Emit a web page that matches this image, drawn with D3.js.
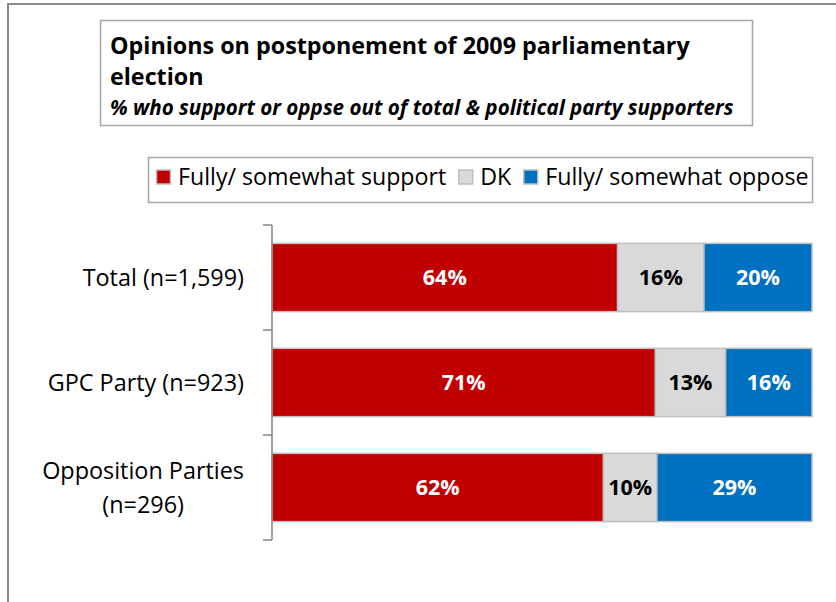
<!DOCTYPE html>
<html>
<head>
<meta charset="utf-8">
<script src="https://cdn.jsdelivr.net/npm/d3@7"></script>
<style>
  html, body { margin: 0; padding: 0; background: #fff; }
  svg { display: block; font-family: "Open Sans", Lato, sans-serif; }
</style>
</head>
<body>
<svg id="chart" width="836" height="602"></svg>
<script>
// Survey groups (top to bottom) and their answer shares in percent
const categories = [["Total (n=1,599)"], ["GPC Party (n=923)"], ["Opposition Parties", "(n=296)"]];
const seriesNames = ["Fully/ somewhat support", "DK", "Fully/ somewhat oppose"];
const support = [64, 71, 62];
const dontKnow = [16, 13, 10];
const oppose = [20, 16, 29];

const titleLines = ["Opinions on postponement of 2009 parliamentary", "election"];
const subtitle = "% who support or oppse out of total & political party supporters";

const colors = ["#C00000", "#D9D9D9", "#0070C0"];
const labelColors = ["#ffffff", "#000000", "#ffffff"];

const svg = d3.select("#chart");

// Outer chart-area frame
svg.append("rect")
  .attr("x", 8).attr("y", 4).attr("width", 840).attr("height", 620)
  .attr("fill", "none").attr("stroke", "#8a8a8a").attr("stroke-width", 2);

// Title box
svg.append("rect")
  .attr("x", 100.5).attr("y", 20.5).attr("width", 652).attr("height", 105)
  .attr("fill", "#fff").attr("stroke", "#a6a6a6").attr("stroke-width", 1.5);

const titleG = svg.append("g").attr("font-weight", "bold").attr("fill", "#000");
titleG.selectAll("text.t").data(titleLines).join("text")
  .attr("class", "t")
  .attr("x", 110)
  .attr("y", (d, i) => 54 + i * 31)
  .attr("font-size", 23.3)
  .text(d => d);
titleG.append("text")
  .attr("x", 110).attr("y", 115)
  .attr("font-size", 20.6)
  .attr("font-style", "italic")
  .text(subtitle);

// Legend box
svg.append("rect")
  .attr("x", 148.5).attr("y", 157.5).attr("width", 664).attr("height", 45)
  .attr("fill", "#fff").attr("stroke", "#a6a6a6").attr("stroke-width", 1.5);

const legend = svg.append("g").attr("font-size", 23.2).attr("fill", "#000");
let lx = 156;
seriesNames.forEach((name, i) => {
  legend.append("rect")
    .attr("x", lx + 0.5).attr("y", 170).attr("width", 14).attr("height", 14)
    .attr("fill", colors[i]).attr("stroke", "#bfbfbf").attr("stroke-width", 1.5);
  const t = legend.append("text")
    .attr("x", lx + 22).attr("y", 185)
    .text(name);
  lx += 22 + t.node().getComputedTextLength() + 12;
});

// Scales
const x = d3.scaleLinear().domain([0, 1]).range([272, 812]);
const y = d3.scaleBand().domain(d3.range(categories.length)).range([225, 540]).padding(0);
const barH = y.step() * 0.65;

// 100% stacked rows
const rows = categories.map((c, i) => {
  const vals = [support[i], dontKnow[i], oppose[i]];
  const total = d3.sum(vals);
  let acc = 0;
  return vals.map((v, k) => {
    const seg = { row: i, k, value: v, x0: acc / total, x1: (acc + v) / total };
    acc += v;
    return seg;
  });
});

const bars = svg.append("g");
rows.forEach(segs => {
  const g = bars.append("g");
  g.selectAll("rect").data(segs).join("rect")
    .attr("x", d => x(d.x0))
    .attr("y", d => y(d.row) + (y.step() - barH) / 2)
    .attr("width", d => x(d.x1) - x(d.x0))
    .attr("height", barH)
    .attr("fill", d => colors[d.k])
    .attr("stroke", "#bfbfbf")
    .attr("stroke-width", 1.5);
  g.selectAll("text").data(segs).join("text")
    .attr("x", d => (x(d.x0) + x(d.x1)) / 2)
    .attr("y", d => y(d.row) + y.step() / 2)
    .attr("dy", "0.36em")
    .attr("text-anchor", "middle")
    .attr("font-size", 21.5)
    .attr("font-weight", "bold")
    .attr("fill", d => labelColors[d.k])
    .text(d => d.value + "%");
});

// Category axis with ticks between categories
const axisG = svg.append("g").attr("stroke", "#868686").attr("stroke-width", 1.5);
axisG.append("line")
  .attr("x1", 272).attr("x2", 272)
  .attr("y1", y.range()[0]).attr("y2", y.range()[1]);
const boundaries = d3.range(categories.length + 1).map(i => y.range()[0] + i * y.step());
axisG.selectAll("line.tick").data(boundaries).join("line")
  .attr("class", "tick")
  .attr("x1", 263).attr("x2", 272)
  .attr("y1", d => d).attr("y2", d => d);

// Category labels, multi-line labels centred as a block
const labG = svg.append("g").attr("font-size", 23.4).attr("fill", "#000");
categories.forEach((lines, i) => {
  const cy = y(i) + y.step() / 2;
  const lh = 34;
  const texts = lines.map((l, j) => labG.append("text")
    .attr("y", cy + (j - (lines.length - 1) / 2) * lh)
    .attr("dy", "0.36em")
    .text(l));
  const w = d3.max(texts, t => t.node().getComputedTextLength());
  const right = 244;
  texts.forEach(t => t.attr("x", right - w / 2).attr("text-anchor", "middle"));
});
</script>
</body>
</html>
